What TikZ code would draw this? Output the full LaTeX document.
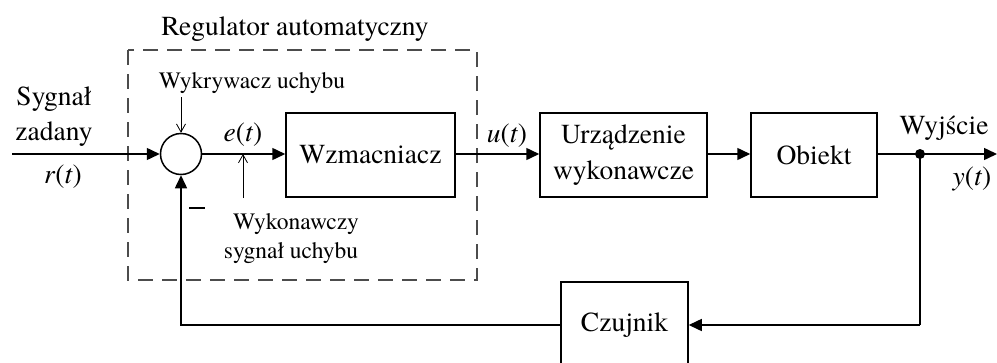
\documentclass[tikz,border=0pt]{standalone}
\usepackage{fontspec}
\setmainfont{texgyretermes}[Extension=.otf,UprightFont=*-regular,ItalicFont=*-italic,BoldFont=*-bold,BoldItalicFont=*-bolditalic]
\usetikzlibrary{arrows.meta}
\begin{document}
\begin{tikzpicture}[x=1pt,y=-1pt,
  big/.style={font=\fontsize{27.5}{36}\selectfont},
  small/.style={font=\fontsize{23.5}{29.5}\selectfont},
  blk/.style={draw,line width=1.5pt,minimum height=84pt,inner sep=0pt,big,align=center},
  conn/.style={line width=1.5pt},
  tipped/.style={conn,-{Triangle[length=13pt,width=12pt]}},
  thin/.style={line width=0.8pt,-{Straight Barb[length=8pt,width=9pt]}},
  lbl/.style={inner sep=0pt,anchor=base}]
\useasboundingbox (0,0) rectangle (997,362);
\clip (0,0) rectangle (997,362);
% dashed regulator frame
\draw[gray!60!black,line width=1.1pt,dash pattern=on 15pt off 9pt] (128,50) rectangle (477,280);
\node[lbl,big] (reg) at (295,35) {Regulator automatyczny};
% blocks
\node[draw,circle,line width=1.5pt,minimum size=41pt,inner sep=0pt] (sum) at (181,154) {};
\node[blk,minimum width=169pt] (wz) at (370.5,155) {Wzmacniacz};
\node[blk,minimum width=167pt] (ur) at (623.5,155) {Urządzenie\\wykonawcze};
\node[blk,minimum width=126pt] (ob) at (814,155) {Obiekt};
\node[draw,line width=1.5pt,inner sep=0pt,minimum width=127pt,minimum height=96pt] (cz) at (624.5,330) {};
\node[big,inner sep=0pt] (czt) at (624.5,325) {Czujnik};
% coordinates
\coordinate (in) at (12,154);
\coordinate (dot) at (920,154);
\coordinate (out) at (997,154);
\coordinate (dr) at (920,325);
\coordinate (czE) at (cz.east |- dr);
\coordinate (czW) at (cz.west |- dr);
\coordinate (fl) at (181,325);
\coordinate (wkTop) at (181,97);
\coordinate (ewy) at (243,198);
\coordinate (eon) at (243,154);
\fill (dot) circle (5pt);
% connectors
\draw[tipped] (in) -- (sum.west);
\draw[tipped] (sum.east) -- (sum.east -| wz.west);
\draw[tipped] (wz.east |- sum.east) -- (wz.east |- sum.east -| ur.west);
\draw[tipped] (ur.east |- dot) -- (ob.west |- dot);
\draw[conn] (ob.east |- dot) -- (dot);
\draw[tipped] (dot) -- (out);
\draw[conn] (dot) -- (dr);
\draw[tipped] (dr) -- (czE);
\draw[tipped] (czW) -- (fl) -- (sum.south);
\draw[thin] (wkTop) -- (sum.north);
\draw[thin] (ewy) -- (eon);
% labels
\node[lbl,small] (wk) at (252,88) {Wykrywacz uchybu};
\node[lbl,big] (e) at (243,141) {\textit{e}(\textit{t})};
\node[lbl,small] (wyk1) at (296,229) {Wykonawczy};
\node[lbl,small] (wyk2) at (291,258) {sygnał uchybu};
\node[lbl,big] (syg1) at (54,105) {Sygnał};
\node[lbl,big] (syg2) at (54,140) {zadany};
\node[lbl,big] (r) at (63,183) {\textit{r}(\textit{t})};
\draw[line width=1.5pt] (189,208) -- (205,208);
\node[lbl,big] (u) at (507,142) {\textit{u}(\textit{t})};
\node[lbl,big] (wy) at (944,134) {Wyjście};
\node[lbl,big] (y) at (972,185) {\textit{y}(\textit{t})};
\end{tikzpicture}
\end{document}
